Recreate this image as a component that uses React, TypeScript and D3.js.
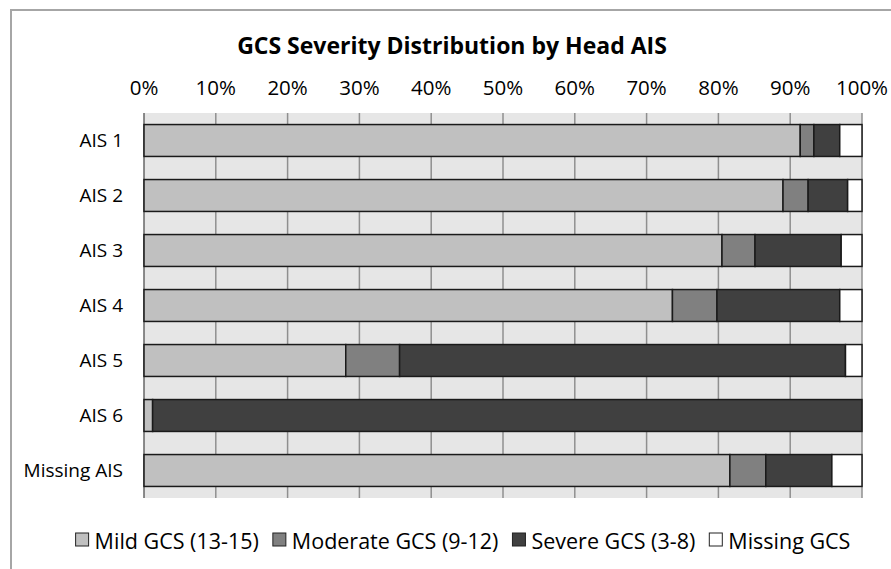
import { scaleLinear, scaleBand, stack } from 'd3'

const CATEGORIES = ['AIS 1', 'AIS 2', 'AIS 3', 'AIS 4', 'AIS 5', 'AIS 6', 'Missing AIS']
const SERIES = ['Mild GCS (13-15)', 'Moderate GCS (9-12)', 'Severe GCS (3-8)', 'Missing GCS']
const COLORS = ['#c0c0c0', '#808080', '#404040', '#ffffff']
const MILD = [91.4, 89.0, 80.5, 73.6, 28.1, 1.2, 81.6]
const MODERATE = [1.9, 3.5, 4.6, 6.2, 7.5, 0, 5.0]
const SEVERE = [3.6, 5.5, 12.0, 17.1, 62.1, 98.8, 9.2]
const MISSING = [3.1, 2.0, 2.9, 3.1, 2.3, 0, 4.2]
const TICKS = [0, 10, 20, 30, 40, 50, 60, 70, 80, 90, 100]
const TITLE = 'GCS Severity Distribution by Head AIS'

const FONT = '"Open Sans", sans-serif'

function measure(text: string, size: number) {
  const ctx = document.createElement('canvas').getContext('2d')!
  ctx.font = `${size}px "Open Sans"`
  return ctx.measureText(text).width
}

export default function App() {
  const width = 891
  const height = 569
  const margin = { top: 113, right: 29, bottom: 71, left: 144 }
  const innerWidth = width - margin.left - margin.right
  const innerHeight = height - margin.top - margin.bottom

  const rows = CATEGORIES.map((c, i) => ({
    cat: c,
    [SERIES[0]]: MILD[i],
    [SERIES[1]]: MODERATE[i],
    [SERIES[2]]: SEVERE[i],
    [SERIES[3]]: MISSING[i],
  }))
  const stacked = stack<any>().keys(SERIES)(rows)

  const x = scaleLinear().domain([0, 100]).range([0, innerWidth])
  const y = scaleBand().domain(CATEGORIES).range([0, innerHeight]).paddingInner(0.42).paddingOuter(0.21)

  // legend layout
  const legendSize = 21.5
  const sw = 13
  const gap = 6
  const itemGap = 14
  const widths = SERIES.map((s) => sw + gap + measure(s, legendSize))
  const total = widths.reduce((a, b) => a + b, 0) + itemGap * (SERIES.length - 1)
  let lx = 463 - total / 2
  const legendX = widths.map((w) => {
    const p = lx
    lx += w + itemGap
    return p
  })

  return (
    <svg width={width} height={height} style={{ position: 'absolute', left: 0, top: 0 }} fontFamily={FONT}>
      <rect x={0} y={0} width={width} height={height} fill='#fff' />
      <rect x={11} y={10} width={width + 10} height={height + 10} fill='none' stroke='#a6a6a6' strokeWidth={2} />
      <text x={452} y={54} textAnchor='middle' fontSize={23} fontWeight='bold' fill='#000'>
        {TITLE}
      </text>
      <g transform={`translate(${margin.left}, ${margin.top})`}>
        <rect width={innerWidth} height={innerHeight} fill='#e6e6e6' />
        {TICKS.map((t) => (
          <g key={t} transform={`translate(${x(t)}, 0)`}>
            <line y2={innerHeight} stroke={t === 0 ? '#666' : '#8f8f8f'} strokeWidth={1.5} />
            <text y={-18} textAnchor='middle' fontSize={20.5} fill='#000'>
              {t}%
            </text>
          </g>
        ))}
        {CATEGORIES.map((c) => (
          <text key={c} x={-21} y={y(c)! + y.bandwidth() / 2} dy='0.35em' textAnchor='end' fontSize={19} fill='#000'>
            {c}
          </text>
        ))}
        {stacked.map((s, si) => (
          <g key={s.key} fill={COLORS[si]}>
            {s.map((d, i) =>
              d[1] - d[0] > 0 ? (
                <rect
                  key={i}
                  x={x(d[0])}
                  y={y(CATEGORIES[i])}
                  width={x(d[1]) - x(d[0])}
                  height={y.bandwidth()}
                  stroke='#1a1a1a'
                  strokeWidth={1.5}
                />
              ) : null
            )}
          </g>
        ))}
      </g>
      {SERIES.map((s, i) => (
        <g key={s} transform={`translate(${legendX[i]}, 533)`}>
          <rect width={sw} height={sw} fill={COLORS[i]} stroke='#222' strokeWidth={1} />
          <text x={sw + gap} y={16} fontSize={legendSize} fill='#000'>
            {s}
          </text>
        </g>
      ))}
    </svg>
  )
}
